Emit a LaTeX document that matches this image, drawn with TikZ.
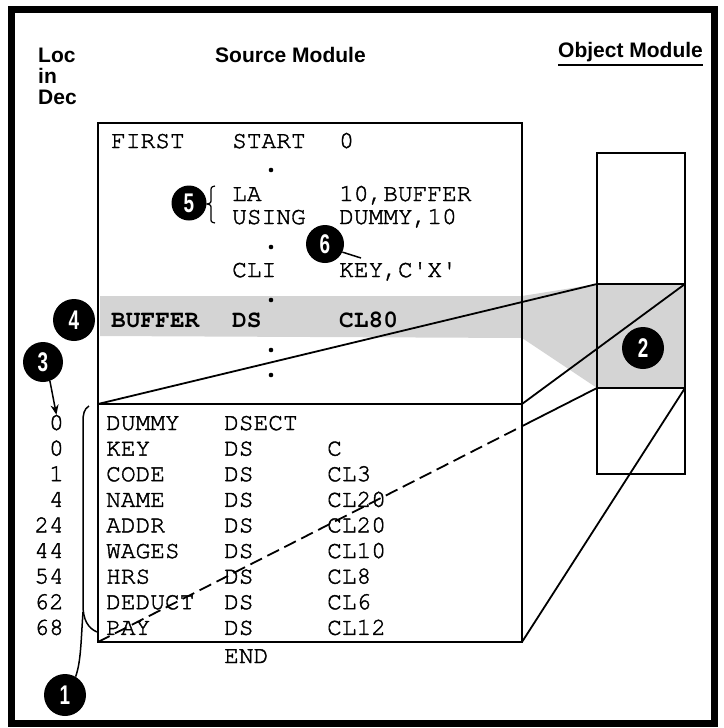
\documentclass[tikz,border=0pt]{standalone}
\usepackage{fontspec}
\setmainfont{Liberation Sans}
\setmonofont{texgyrecursor}[Extension=.otf, UprightFont=*-regular, BoldFont=*-bold,
  UprightFeatures={FakeBold=1.6}]
\newfontfamily\numfont[FakeStretch=0.7]{Liberation Sans}
\usetikzlibrary{arrows.meta,calc}

\tikzset{
  titre/.style={font=\fontsize{21}{24}\selectfont\bfseries, inner sep=0pt, anchor=base west},
  code/.style={font=\fontsize{24.5}{26}\selectfont\ttfamily, inner sep=0pt, text height=15pt,
    text depth=0pt, anchor=base west},
  loc/.style={code, anchor=base east},
  puce/.style={circle, fill=black, inner sep=0pt, minimum size=42pt, text=white,
    font=\numfont\bfseries\fontsize{27}{27}\selectfont},
  cadre/.style={draw, line width=2.8pt, inner sep=0pt, outer sep=0pt, anchor=north west},
  lien/.style={line width=1.8pt},
}

\begin{document}
\begin{tikzpicture}[x=1pt, y=-1pt, >={Stealth[length=10pt,width=8pt]}]
    \useasboundingbox (0,0) rectangle (723,728);

    % Cadre general
    \draw[line width=7pt] (11.5,9) rectangle (714,723.5);

    % Titres
    \node[titre] (loca) at (38,62) {Loc};
    \node[titre] (locb) at (38,83) {in};
    \node[titre] (locc) at (38,104) {Dec};
    \node[titre] (source) at (215,62) {Source Module};
    \node[titre] (objet) at (558,57) {Object Module};
    \draw[line width=2.5pt] (objet.base west) ++(0,8) -- ++(145,0);

    % Zone grisee (BUFFER vers le module objet)
    \fill[black!17] (100,296) -- (522,296) -- (597,284) -- (685,284) -- (685,388)
        -- (597,388) -- (522,338) -- (100,336) -- cycle;

    % Module source et module objet
    \node[cadre, minimum width=424pt, minimum height=281pt] (srcup) at (98,123) {};
    \node[cadre, minimum width=424pt, minimum height=238pt] (srcdown) at (98,404) {};
    \node[cadre, minimum width=88pt, minimum height=131pt] (objtop) at (597,153) {};
    \node[cadre, minimum width=88pt, minimum height=104pt] (objmid) at (597,284) {};
    \node[cadre, minimum width=88pt, minimum height=86pt] (objbot) at (597,388) {};

    % Correspondances
    \draw[lien] (srcup.south west) -- (objmid.north west);
    \draw[lien] (srcup.south east) -- (objmid.north east);
    \draw[lien, dash pattern=on 13pt off 6pt] (srcdown.south west)
        -- ($(srcdown.south west)!0.85!(objmid.south west)$) coordinate (coupe);
    \draw[lien] (coupe) -- (objmid.south west);
    \draw[lien] (srcdown.south east) -- (objmid.south east);

    % Partie haute du source
    \node[code] (first) at (111,148) {FIRST};
    \node[code] (start) at (232,148) {START};
    \node[code] (zero) at (339,148) {0};
    \node[code] (la) at (232,201) {LA};
    \node[code] (laarg) at (339,201) {10,BUFFER};
    \node[code] (using) at (232,224) {USING};
    \node[code] (usingarg) at (339,224) {DUMMY,10};
    \node[code] (cli) at (232,277) {CLI};
    \node[code] (cliarg) at (339,277) {KEY,C'X'};
    \node[code, font=\fontsize{24.5}{26}\selectfont\ttfamily\bfseries] (buffer) at (111,327) {BUFFER};
    \node[code, font=\fontsize{24.5}{26}\selectfont\ttfamily\bfseries] (bufop) at (232,327) {DS};
    \node[code, font=\fontsize{24.5}{26}\selectfont\ttfamily\bfseries] (bufarg) at (339,327) {CL80};
    \foreach \yp in {170,247,300,350,375}
        \fill (271,\yp) circle (2.3);

    % DSECT
    \foreach \adr/\lab/\ins/\val [count=\i] in {0/DUMMY/DSECT/{}, 0/KEY/DS/C, 1/CODE/DS/CL3,
        4/NAME/DS/CL20, 24/ADDR/DS/CL20, 44/WAGES/DS/CL10, 54/HRS/DS/CL8,
        62/DEDUCT/DS/CL6, 68/PAY/DS/CL12} {
        \pgfmathsetmacro\yb{430+25.6*(\i-1)}
        \node[loc] (loc\i) at (64,\yb) {\adr};
        \node[code] (lab\i) at (106,\yb) {\lab};
        \node[code] (ins\i) at (224,\yb) {\ins};
        \node[code] (val\i) at (327,\yb) {\val};
    }
    \node[code] (fin) at (224,663) {END};

    % Accolades
    \draw[line width=1.2pt] (215,186) .. controls (211,187) .. (211,192) -- (211,199)
        .. controls (211,203) .. (207,204) .. controls (211,205) .. (211,209) -- (211,218)
        .. controls (211,222) .. (215,223);
    \draw[line width=1.5pt] (89,406) .. controls (84,409) and (83,414) .. (83,422) -- (83,605)
        .. controls (83,620) and (88,628) .. (97,632);

    % Reperes numerotes
    \node[puce] (n1) at (65,695) {1};
    \node[puce] (n2) at (643,348) {2};
    \node[puce, minimum size=40pt] (n3) at (43,362) {3};
    \node[puce] (n4) at (74,320) {4};
    \node[puce, minimum size=35pt] (n5) at (189,203) {5};
    \node[puce, minimum size=38pt] (n6) at (325,244) {6};

    \draw[line width=1.5pt] (83,612) .. controls (81,640) and (81,662) .. (n1.60);
    \draw[->, line width=1.5pt] (n3.-70) -- (loc1.north);
    \coordinate (cle) at (361,258);
    \draw[line width=1.5pt] (n6.-25) -- (cle);
\end{tikzpicture}
\end{document}
